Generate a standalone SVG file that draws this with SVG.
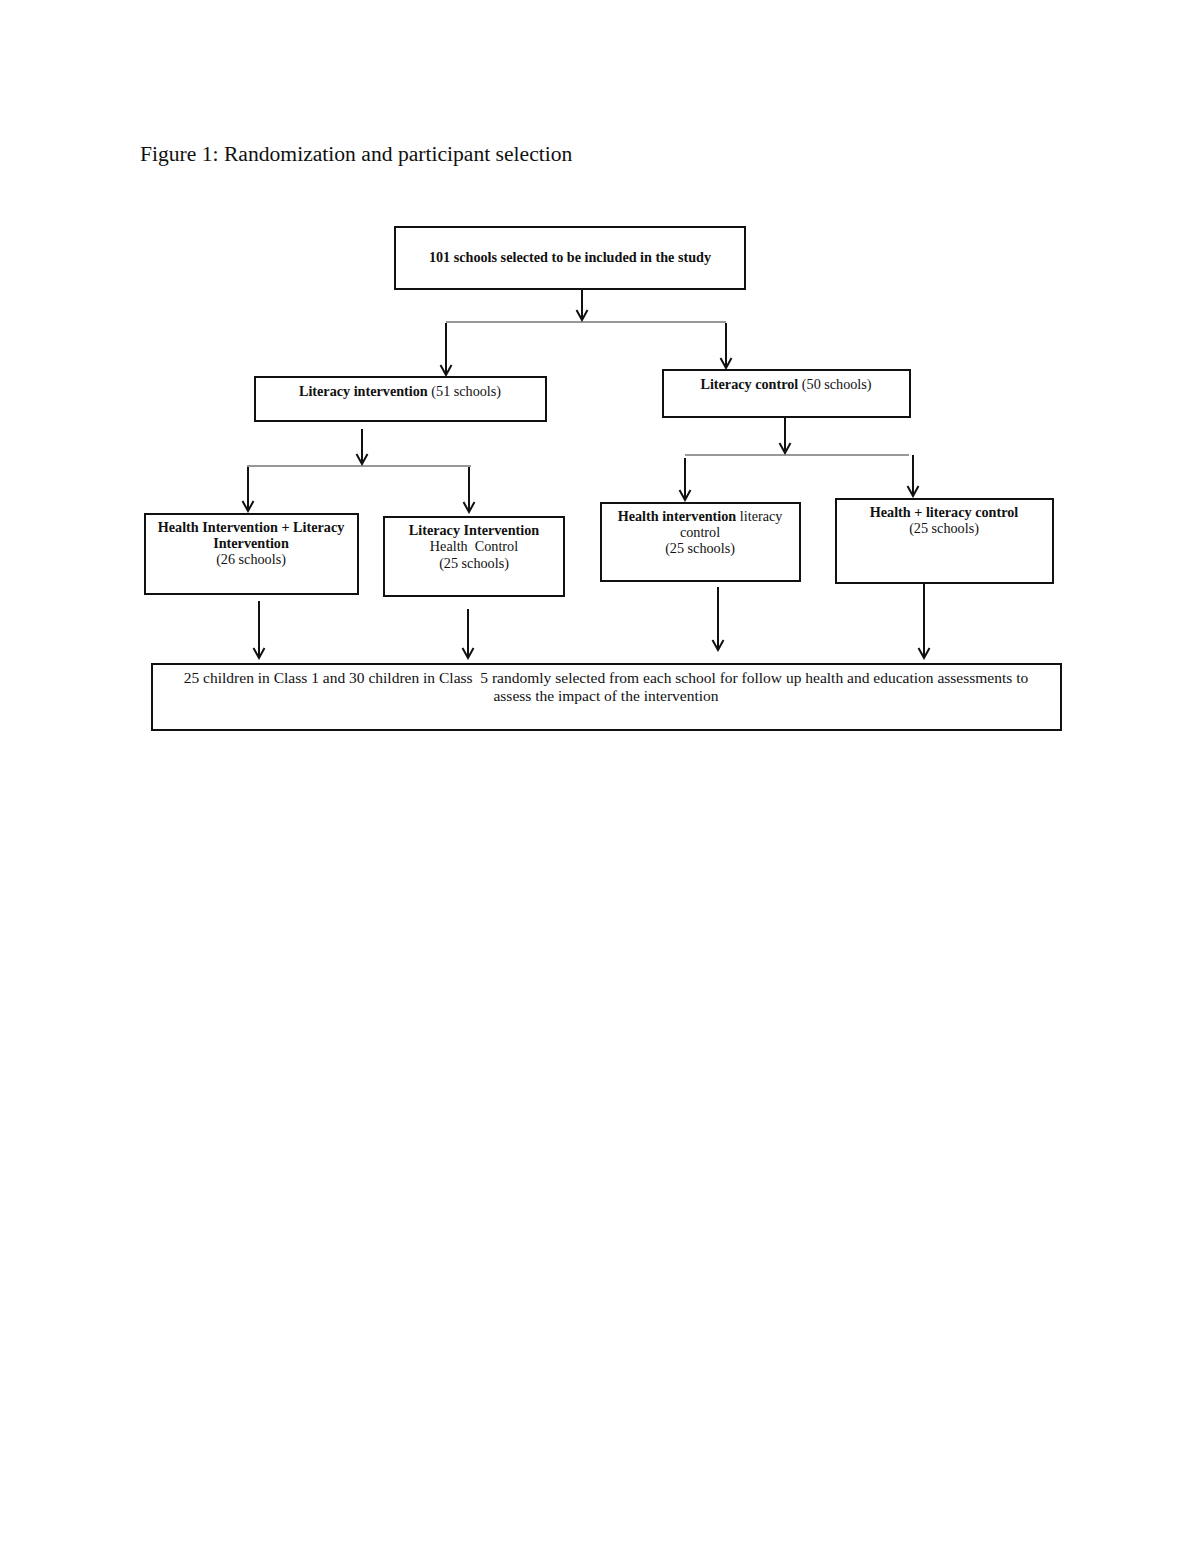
<svg xmlns="http://www.w3.org/2000/svg" width="1200" height="1553" viewBox="0 0 1200 1553">
<style>
text{font-family:"Liberation Serif","Times New Roman",serif;fill:#111}
.t{font-size:14.2px;text-anchor:middle}
.b{font-weight:bold}
.box{fill:#fff;stroke:#111;stroke-width:2}
.ar{stroke:#111;stroke-width:2;fill:none;marker-end:url(#ah)}
.ln{stroke:#333;stroke-width:1.2;fill:none}
</style>
<defs>
<marker id="ah" markerUnits="userSpaceOnUse" markerWidth="14" markerHeight="16" viewBox="-12 -8 14 16" refX="0" refY="0" orient="auto">
<path d="M-10,-5.5 L0,0 L-10,5.5" fill="none" stroke="#111" stroke-width="2"/>
</marker>
</defs>
<rect width="1200" height="1553" fill="#fff"/>
<text x="140" y="161" style="font-size:21.6px">Figure 1: Randomization and participant selection</text>
<g id="connectors">
<line class="ar" x1="582" y1="289" x2="582" y2="320"/>
<line class="ln" x1="446" y1="322" x2="726" y2="322"/>
<line class="ar" x1="446" y1="323" x2="446" y2="375"/>
<line class="ar" x1="726" y1="323" x2="726" y2="368"/>
<line class="ar" x1="362" y1="429" x2="362" y2="464"/>
<line class="ln" x1="247" y1="466" x2="471" y2="466"/>
<line class="ar" x1="248" y1="467" x2="248" y2="511"/>
<line class="ar" x1="469" y1="467" x2="469" y2="512"/>
<line class="ar" x1="785" y1="417" x2="785" y2="453"/>
<line class="ln" x1="685" y1="455" x2="909" y2="455"/>
<line class="ar" x1="685" y1="458" x2="685" y2="500"/>
<line class="ar" x1="913" y1="455" x2="913" y2="496"/>
<line class="ar" x1="259" y1="601" x2="259" y2="658"/>
<line class="ar" x1="468" y1="609" x2="468" y2="658"/>
<line class="ar" x1="718" y1="587" x2="718" y2="650"/>
<line class="ar" x1="924" y1="583" x2="924" y2="658"/>
</g>
<g id="n1">
<rect class="box" x="395" y="227" width="350" height="62"/>
<text class="t b" x="570" y="262">101 schools selected to be included in the study</text>
</g>
<g id="n2">
<rect class="box" x="255" y="377" width="291" height="44"/>
<text class="t" x="400" y="396"><tspan class="b">Literacy intervention</tspan> (51 schools)</text>
</g>
<g id="n3">
<rect class="box" x="663" y="370" width="247" height="47"/>
<text class="t" x="786" y="389"><tspan class="b">Literacy control</tspan> (50 schools)</text>
</g>
<g id="n4">
<rect class="box" x="145" y="514" width="213" height="80"/>
<text class="t b" x="251" y="532">Health Intervention + Literacy</text>
<text class="t b" x="251" y="548">Intervention</text>
<text class="t" x="251" y="564">(26 schools)</text>
</g>
<g id="n5">
<rect class="box" x="384" y="517" width="180" height="79"/>
<text class="t b" x="474" y="535">Literacy Intervention</text>
<text class="t" x="474" y="551" xml:space="preserve">Health  Control</text>
<text class="t" x="474" y="568">(25 schools)</text>
</g>
<g id="n6">
<rect class="box" x="601" y="503" width="199" height="78"/>
<text class="t" x="700" y="521"><tspan class="b">Health intervention</tspan> literacy</text>
<text class="t" x="700" y="537">control</text>
<text class="t" x="700" y="553">(25 schools)</text>
</g>
<g id="n7">
<rect class="box" x="836" y="499" width="217" height="84"/>
<text class="t b" x="944" y="517">Health + literacy control</text>
<text class="t" x="944" y="533">(25 schools)</text>
</g>
<g id="n8">
<rect class="box" x="152" y="664" width="909" height="66"/>
<text class="t" x="606" y="683" style="font-size:15.5px" xml:space="preserve">25 children in Class 1 and 30 children in Class  5 randomly selected from each school for follow up health and education assessments to</text>
<text class="t" x="606" y="701" style="font-size:15.5px">assess the impact of the intervention</text>
</g>
</svg>
